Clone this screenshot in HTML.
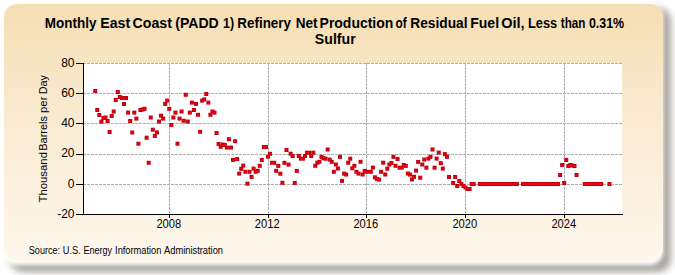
<!DOCTYPE html>
<html><head><meta charset="utf-8"><style>
html,body{margin:0;padding:0;width:675px;height:275px;overflow:hidden;background:#fff}
#sh{position:absolute;left:9.5px;top:8px;width:661.5px;height:264px;border-radius:13px;background:rgba(40,30,20,0.4);filter:blur(3.6px)}
#halo{position:absolute;left:3px;top:3.5px;width:660.3px;height:261.21px;border-radius:13px;background:#fff;filter:blur(2.37px)}
#panel{position:absolute;left:3.5px;top:4px;width:659.07px;height:257.23px;border-radius:13px;
background:linear-gradient(to bottom,#F5DEB3 0%,#FAECD5 50%,#FEF7EC 100%);filter:blur(0.76px)}
svg{position:absolute;left:0;top:0}
.t{font-family:"Liberation Sans",sans-serif}
</style></head><body>
<div id="sh"></div><div id="halo"></div><div id="panel"></div>
<svg width="675" height="275" viewBox="0 0 675 275">
<rect x="84" y="63" width="538" height="151" fill="#fff"/>
<g stroke="#ADADAD" stroke-width="1" stroke-dasharray="3 1" shape-rendering="crispEdges"><g stroke-dashoffset="1"><line x1="84" y1="63.5" x2="622" y2="63.5"/><line x1="84" y1="93.5" x2="622" y2="93.5"/><line x1="84" y1="123.5" x2="622" y2="123.5"/><line x1="84" y1="154.5" x2="622" y2="154.5"/><line x1="84" y1="184.5" x2="622" y2="184.5"/></g><line x1="169.5" y1="63" x2="169.5" y2="214"/><line x1="268.5" y1="63" x2="268.5" y2="214"/><line x1="366.5" y1="63" x2="366.5" y2="214"/><line x1="465.5" y1="63" x2="465.5" y2="214"/><line x1="564.5" y1="63" x2="564.5" y2="214"/></g>
<g stroke="#000" stroke-width="1" shape-rendering="crispEdges">
<line x1="83.5" y1="63" x2="83.5" y2="215"/><line x1="83" y1="214.5" x2="623" y2="214.5"/><line x1="76" y1="63.5" x2="83" y2="63.5"/><line x1="76" y1="93.5" x2="83" y2="93.5"/><line x1="76" y1="123.5" x2="83" y2="123.5"/><line x1="76" y1="154.5" x2="83" y2="154.5"/><line x1="76" y1="184.5" x2="83" y2="184.5"/><line x1="76" y1="214.5" x2="83" y2="214.5"/><line x1="169.5" y1="214" x2="169.5" y2="218"/><line x1="268.5" y1="214" x2="268.5" y2="218"/><line x1="366.5" y1="214" x2="366.5" y2="218"/><line x1="465.5" y1="214" x2="465.5" y2="218"/><line x1="564.5" y1="214" x2="564.5" y2="218"/></g>
<g fill="#BE0010"><rect x="93.20" y="89.0" width="4.00" height="4"/><rect x="95.26" y="108.0" width="4.00" height="4"/><rect x="97.31" y="113.0" width="4.00" height="4"/><rect x="99.37" y="119.7" width="4.00" height="4"/><rect x="101.43" y="116.0" width="4.00" height="4"/><rect x="103.48" y="115.5" width="4.00" height="4"/><rect x="105.54" y="119.0" width="4.00" height="4"/><rect x="107.60" y="130.0" width="4.00" height="4"/><rect x="109.66" y="114.0" width="4.00" height="4"/><rect x="111.71" y="109.5" width="4.00" height="4"/><rect x="113.77" y="98.0" width="4.00" height="4"/><rect x="115.83" y="90.0" width="4.00" height="4"/><rect x="117.88" y="95.0" width="4.00" height="4"/><rect x="119.94" y="96.0" width="4.00" height="4"/><rect x="122.00" y="102.0" width="4.00" height="4"/><rect x="124.06" y="96.0" width="4.00" height="4"/><rect x="126.11" y="110.6" width="4.00" height="4"/><rect x="128.17" y="119.0" width="4.00" height="4"/><rect x="130.23" y="130.5" width="4.00" height="4"/><rect x="132.28" y="110.6" width="4.00" height="4"/><rect x="134.34" y="116.6" width="4.00" height="4"/><rect x="136.40" y="141.7" width="4.00" height="4"/><rect x="138.45" y="108.0" width="4.00" height="4"/><rect x="140.51" y="107.5" width="4.00" height="4"/><rect x="142.57" y="106.8" width="4.00" height="4"/><rect x="144.62" y="135.7" width="4.00" height="4"/><rect x="146.68" y="160.8" width="4.00" height="4"/><rect x="148.74" y="115.5" width="4.00" height="4"/><rect x="150.80" y="127.7" width="4.00" height="4"/><rect x="152.85" y="133.9" width="4.00" height="4"/><rect x="154.91" y="130.4" width="4.00" height="4"/><rect x="156.97" y="119.5" width="4.00" height="4"/><rect x="159.02" y="113.7" width="4.00" height="4"/><rect x="161.08" y="116.6" width="4.00" height="4"/><rect x="163.14" y="101.9" width="4.00" height="4"/><rect x="165.19" y="98.6" width="4.00" height="4"/><rect x="167.25" y="106.8" width="4.00" height="4"/><rect x="169.31" y="123.0" width="4.00" height="4"/><rect x="171.37" y="115.5" width="4.00" height="4"/><rect x="173.42" y="110.6" width="4.00" height="4"/><rect x="175.48" y="141.7" width="4.00" height="4"/><rect x="177.54" y="116.6" width="4.00" height="4"/><rect x="179.59" y="109.5" width="4.00" height="4"/><rect x="181.65" y="118.8" width="4.00" height="4"/><rect x="183.71" y="92.8" width="4.00" height="4"/><rect x="185.76" y="119.5" width="4.00" height="4"/><rect x="187.82" y="110.6" width="4.00" height="4"/><rect x="189.88" y="100.6" width="4.00" height="4"/><rect x="191.94" y="108.0" width="4.00" height="4"/><rect x="193.99" y="101.9" width="4.00" height="4"/><rect x="196.05" y="112.8" width="4.00" height="4"/><rect x="198.11" y="129.8" width="4.00" height="4"/><rect x="200.16" y="98.6" width="4.00" height="4"/><rect x="202.22" y="97.4" width="4.00" height="4"/><rect x="204.28" y="92.0" width="4.00" height="4"/><rect x="206.33" y="100.6" width="4.00" height="4"/><rect x="208.39" y="112.8" width="4.00" height="4"/><rect x="210.45" y="109.5" width="4.00" height="4"/><rect x="212.51" y="110.6" width="4.00" height="4"/><rect x="214.56" y="131.0" width="4.00" height="4"/><rect x="216.62" y="142.0" width="4.00" height="4"/><rect x="218.68" y="144.8" width="4.00" height="4"/><rect x="220.73" y="142.5" width="4.00" height="4"/><rect x="222.79" y="143.0" width="4.00" height="4"/><rect x="224.85" y="145.6" width="4.00" height="4"/><rect x="226.90" y="137.2" width="4.00" height="4"/><rect x="228.96" y="145.6" width="4.00" height="4"/><rect x="231.02" y="157.9" width="4.00" height="4"/><rect x="233.08" y="139.2" width="4.00" height="4"/><rect x="235.13" y="157.0" width="4.00" height="4"/><rect x="237.19" y="171.6" width="4.00" height="4"/><rect x="239.25" y="166.8" width="4.00" height="4"/><rect x="241.30" y="163.6" width="4.00" height="4"/><rect x="243.36" y="169.8" width="4.00" height="4"/><rect x="245.42" y="181.7" width="4.00" height="4"/><rect x="247.48" y="169.8" width="4.00" height="4"/><rect x="249.53" y="174.9" width="4.00" height="4"/><rect x="251.59" y="166.6" width="4.00" height="4"/><rect x="253.65" y="169.8" width="4.00" height="4"/><rect x="255.70" y="168.8" width="4.00" height="4"/><rect x="257.76" y="163.8" width="4.00" height="4"/><rect x="259.82" y="158.0" width="4.00" height="4"/><rect x="261.87" y="145.0" width="6.06" height="4"/><rect x="265.99" y="154.7" width="4.00" height="4"/><rect x="268.05" y="151.8" width="4.00" height="4"/><rect x="270.10" y="160.8" width="6.06" height="4"/><rect x="274.22" y="168.8" width="4.00" height="4"/><rect x="276.27" y="163.9" width="4.00" height="4"/><rect x="278.33" y="171.7" width="4.00" height="4"/><rect x="280.39" y="180.8" width="4.00" height="4"/><rect x="282.44" y="160.8" width="4.00" height="4"/><rect x="284.50" y="148.0" width="4.00" height="4"/><rect x="286.56" y="162.6" width="4.00" height="4"/><rect x="288.62" y="151.7" width="4.00" height="4"/><rect x="290.67" y="154.0" width="4.00" height="4"/><rect x="292.73" y="180.9" width="4.00" height="4"/><rect x="294.79" y="168.9" width="4.00" height="4"/><rect x="296.84" y="154.0" width="4.00" height="4"/><rect x="298.90" y="156.7" width="6.06" height="4"/><rect x="303.01" y="154.0" width="4.00" height="4"/><rect x="305.07" y="150.7" width="6.06" height="4"/><rect x="309.19" y="154.0" width="4.00" height="4"/><rect x="311.24" y="150.7" width="4.00" height="4"/><rect x="313.30" y="163.8" width="4.00" height="4"/><rect x="315.36" y="160.7" width="4.00" height="4"/><rect x="317.41" y="159.8" width="4.00" height="4"/><rect x="319.47" y="154.9" width="4.00" height="4"/><rect x="321.53" y="156.2" width="4.00" height="4"/><rect x="323.58" y="156.7" width="4.00" height="4"/><rect x="325.64" y="147.5" width="4.00" height="4"/><rect x="327.70" y="157.6" width="4.00" height="4"/><rect x="329.75" y="159.8" width="4.00" height="4"/><rect x="331.81" y="169.8" width="4.00" height="4"/><rect x="333.87" y="162.5" width="4.00" height="4"/><rect x="335.93" y="166.5" width="4.00" height="4"/><rect x="337.98" y="154.9" width="4.00" height="4"/><rect x="340.04" y="178.9" width="4.00" height="4"/><rect x="342.10" y="171.6" width="4.00" height="4"/><rect x="344.15" y="172.5" width="4.00" height="4"/><rect x="346.21" y="160.7" width="4.00" height="4"/><rect x="348.27" y="156.7" width="4.00" height="4"/><rect x="350.32" y="166.2" width="4.00" height="4"/><rect x="352.38" y="163.8" width="4.00" height="4"/><rect x="354.44" y="169.8" width="4.00" height="4"/><rect x="356.50" y="171.6" width="4.00" height="4"/><rect x="358.55" y="159.8" width="4.00" height="4"/><rect x="360.61" y="172.5" width="4.00" height="4"/><rect x="362.67" y="168.9" width="4.00" height="4"/><rect x="364.72" y="169.8" width="8.11" height="4"/><rect x="370.89" y="165.6" width="4.00" height="4"/><rect x="372.95" y="175.3" width="4.00" height="4"/><rect x="375.01" y="177.1" width="4.00" height="4"/><rect x="377.07" y="177.6" width="4.00" height="4"/><rect x="379.12" y="169.8" width="4.00" height="4"/><rect x="381.18" y="160.7" width="4.00" height="4"/><rect x="383.24" y="172.5" width="4.00" height="4"/><rect x="385.29" y="166.7" width="4.00" height="4"/><rect x="387.35" y="162.5" width="4.00" height="4"/><rect x="389.41" y="161.0" width="4.00" height="4"/><rect x="391.46" y="154.9" width="4.00" height="4"/><rect x="393.52" y="163.8" width="4.00" height="4"/><rect x="395.58" y="157.0" width="4.00" height="4"/><rect x="397.64" y="165.7" width="6.06" height="4"/><rect x="401.75" y="163.0" width="4.00" height="4"/><rect x="403.81" y="163.9" width="4.00" height="4"/><rect x="405.86" y="171.5" width="4.00" height="4"/><rect x="407.92" y="172.6" width="4.00" height="4"/><rect x="409.98" y="177.5" width="4.00" height="4"/><rect x="412.03" y="174.8" width="4.00" height="4"/><rect x="414.09" y="168.6" width="4.00" height="4"/><rect x="416.15" y="159.9" width="4.00" height="4"/><rect x="418.21" y="175.7" width="4.00" height="4"/><rect x="420.26" y="162.5" width="4.00" height="4"/><rect x="422.32" y="157.5" width="4.00" height="4"/><rect x="424.38" y="165.7" width="4.00" height="4"/><rect x="426.43" y="156.6" width="4.00" height="4"/><rect x="428.49" y="154.8" width="4.00" height="4"/><rect x="430.55" y="147.5" width="4.00" height="4"/><rect x="432.60" y="165.7" width="4.00" height="4"/><rect x="434.66" y="156.6" width="4.00" height="4"/><rect x="436.72" y="150.6" width="4.00" height="4"/><rect x="438.78" y="161.2" width="4.00" height="4"/><rect x="440.83" y="166.6" width="4.00" height="4"/><rect x="442.89" y="152.1" width="4.00" height="4"/><rect x="444.95" y="154.8" width="4.00" height="4"/><rect x="447.00" y="175.0" width="4.00" height="4"/><rect x="451.12" y="181.0" width="4.00" height="4"/><rect x="453.17" y="175.0" width="4.00" height="4"/><rect x="455.23" y="184.0" width="4.00" height="4"/><rect x="457.29" y="179.0" width="4.00" height="4"/><rect x="459.35" y="181.8" width="4.00" height="4"/><rect x="461.40" y="184.0" width="4.00" height="4"/><rect x="463.46" y="185.5" width="4.00" height="4"/><rect x="465.52" y="187.0" width="6.06" height="4"/><rect x="469.63" y="182.0" width="6.06" height="4"/><rect x="477.86" y="182.0" width="41.03" height="4"/><rect x="521.06" y="182.0" width="38.97" height="4"/><rect x="558.08" y="173.0" width="4.00" height="4"/><rect x="560.14" y="163.0" width="4.00" height="4"/><rect x="562.20" y="181.0" width="4.00" height="4"/><rect x="564.25" y="158.0" width="4.00" height="4"/><rect x="566.31" y="164.0" width="4.00" height="4"/><rect x="568.37" y="163.0" width="4.00" height="4"/><rect x="570.42" y="163.5" width="4.00" height="4"/><rect x="572.48" y="164.0" width="4.00" height="4"/><rect x="574.54" y="173.0" width="4.00" height="4"/><rect x="582.77" y="182.0" width="20.46" height="4"/><rect x="607.45" y="182.0" width="4.00" height="4"/></g>
<g fill="#F2000E"><rect x="94.20" y="90.0" width="2.00" height="2"/><rect x="96.26" y="109.0" width="2.00" height="2"/><rect x="98.31" y="114.0" width="2.00" height="2"/><rect x="100.37" y="120.7" width="2.00" height="2"/><rect x="102.43" y="117.0" width="2.00" height="2"/><rect x="104.48" y="116.5" width="2.00" height="2"/><rect x="106.54" y="120.0" width="2.00" height="2"/><rect x="108.60" y="131.0" width="2.00" height="2"/><rect x="110.66" y="115.0" width="2.00" height="2"/><rect x="112.71" y="110.5" width="2.00" height="2"/><rect x="114.77" y="99.0" width="2.00" height="2"/><rect x="116.83" y="91.0" width="2.00" height="2"/><rect x="118.88" y="96.0" width="2.00" height="2"/><rect x="120.94" y="97.0" width="2.00" height="2"/><rect x="123.00" y="103.0" width="2.00" height="2"/><rect x="125.06" y="97.0" width="2.00" height="2"/><rect x="127.11" y="111.6" width="2.00" height="2"/><rect x="129.17" y="120.0" width="2.00" height="2"/><rect x="131.23" y="131.5" width="2.00" height="2"/><rect x="133.28" y="111.6" width="2.00" height="2"/><rect x="135.34" y="117.6" width="2.00" height="2"/><rect x="137.40" y="142.7" width="2.00" height="2"/><rect x="139.45" y="109.0" width="2.00" height="2"/><rect x="141.51" y="108.5" width="2.00" height="2"/><rect x="143.57" y="107.8" width="2.00" height="2"/><rect x="145.62" y="136.7" width="2.00" height="2"/><rect x="147.68" y="161.8" width="2.00" height="2"/><rect x="149.74" y="116.5" width="2.00" height="2"/><rect x="151.80" y="128.7" width="2.00" height="2"/><rect x="153.85" y="134.9" width="2.00" height="2"/><rect x="155.91" y="131.4" width="2.00" height="2"/><rect x="157.97" y="120.5" width="2.00" height="2"/><rect x="160.02" y="114.7" width="2.00" height="2"/><rect x="162.08" y="117.6" width="2.00" height="2"/><rect x="164.14" y="102.9" width="2.00" height="2"/><rect x="166.19" y="99.6" width="2.00" height="2"/><rect x="168.25" y="107.8" width="2.00" height="2"/><rect x="170.31" y="124.0" width="2.00" height="2"/><rect x="172.37" y="116.5" width="2.00" height="2"/><rect x="174.42" y="111.6" width="2.00" height="2"/><rect x="176.48" y="142.7" width="2.00" height="2"/><rect x="178.54" y="117.6" width="2.00" height="2"/><rect x="180.59" y="110.5" width="2.00" height="2"/><rect x="182.65" y="119.8" width="2.00" height="2"/><rect x="184.71" y="93.8" width="2.00" height="2"/><rect x="186.76" y="120.5" width="2.00" height="2"/><rect x="188.82" y="111.6" width="2.00" height="2"/><rect x="190.88" y="101.6" width="2.00" height="2"/><rect x="192.94" y="109.0" width="2.00" height="2"/><rect x="194.99" y="102.9" width="2.00" height="2"/><rect x="197.05" y="113.8" width="2.00" height="2"/><rect x="199.11" y="130.8" width="2.00" height="2"/><rect x="201.16" y="99.6" width="2.00" height="2"/><rect x="203.22" y="98.4" width="2.00" height="2"/><rect x="205.28" y="93.0" width="2.00" height="2"/><rect x="207.33" y="101.6" width="2.00" height="2"/><rect x="209.39" y="113.8" width="2.00" height="2"/><rect x="211.45" y="110.5" width="2.00" height="2"/><rect x="213.51" y="111.6" width="2.00" height="2"/><rect x="215.56" y="132.0" width="2.00" height="2"/><rect x="217.62" y="143.0" width="2.00" height="2"/><rect x="219.68" y="145.8" width="2.00" height="2"/><rect x="221.73" y="143.5" width="2.00" height="2"/><rect x="223.79" y="144.0" width="2.00" height="2"/><rect x="225.85" y="146.6" width="2.00" height="2"/><rect x="227.90" y="138.2" width="2.00" height="2"/><rect x="229.96" y="146.6" width="2.00" height="2"/><rect x="232.02" y="158.9" width="2.00" height="2"/><rect x="234.08" y="140.2" width="2.00" height="2"/><rect x="236.13" y="158.0" width="2.00" height="2"/><rect x="238.19" y="172.6" width="2.00" height="2"/><rect x="240.25" y="167.8" width="2.00" height="2"/><rect x="242.30" y="164.6" width="2.00" height="2"/><rect x="244.36" y="170.8" width="2.00" height="2"/><rect x="246.42" y="182.7" width="2.00" height="2"/><rect x="248.48" y="170.8" width="2.00" height="2"/><rect x="250.53" y="175.9" width="2.00" height="2"/><rect x="252.59" y="167.6" width="2.00" height="2"/><rect x="254.65" y="170.8" width="2.00" height="2"/><rect x="256.70" y="169.8" width="2.00" height="2"/><rect x="258.76" y="164.8" width="2.00" height="2"/><rect x="260.82" y="159.0" width="2.00" height="2"/><rect x="262.87" y="146.0" width="4.06" height="2"/><rect x="266.99" y="155.7" width="2.00" height="2"/><rect x="269.05" y="152.8" width="2.00" height="2"/><rect x="271.10" y="161.8" width="4.06" height="2"/><rect x="275.22" y="169.8" width="2.00" height="2"/><rect x="277.27" y="164.9" width="2.00" height="2"/><rect x="279.33" y="172.7" width="2.00" height="2"/><rect x="281.39" y="181.8" width="2.00" height="2"/><rect x="283.44" y="161.8" width="2.00" height="2"/><rect x="285.50" y="149.0" width="2.00" height="2"/><rect x="287.56" y="163.6" width="2.00" height="2"/><rect x="289.62" y="152.7" width="2.00" height="2"/><rect x="291.67" y="155.0" width="2.00" height="2"/><rect x="293.73" y="181.9" width="2.00" height="2"/><rect x="295.79" y="169.9" width="2.00" height="2"/><rect x="297.84" y="155.0" width="2.00" height="2"/><rect x="299.90" y="157.7" width="4.06" height="2"/><rect x="304.01" y="155.0" width="2.00" height="2"/><rect x="306.07" y="151.7" width="4.06" height="2"/><rect x="310.19" y="155.0" width="2.00" height="2"/><rect x="312.24" y="151.7" width="2.00" height="2"/><rect x="314.30" y="164.8" width="2.00" height="2"/><rect x="316.36" y="161.7" width="2.00" height="2"/><rect x="318.41" y="160.8" width="2.00" height="2"/><rect x="320.47" y="155.9" width="2.00" height="2"/><rect x="322.53" y="157.2" width="2.00" height="2"/><rect x="324.58" y="157.7" width="2.00" height="2"/><rect x="326.64" y="148.5" width="2.00" height="2"/><rect x="328.70" y="158.6" width="2.00" height="2"/><rect x="330.75" y="160.8" width="2.00" height="2"/><rect x="332.81" y="170.8" width="2.00" height="2"/><rect x="334.87" y="163.5" width="2.00" height="2"/><rect x="336.93" y="167.5" width="2.00" height="2"/><rect x="338.98" y="155.9" width="2.00" height="2"/><rect x="341.04" y="179.9" width="2.00" height="2"/><rect x="343.10" y="172.6" width="2.00" height="2"/><rect x="345.15" y="173.5" width="2.00" height="2"/><rect x="347.21" y="161.7" width="2.00" height="2"/><rect x="349.27" y="157.7" width="2.00" height="2"/><rect x="351.32" y="167.2" width="2.00" height="2"/><rect x="353.38" y="164.8" width="2.00" height="2"/><rect x="355.44" y="170.8" width="2.00" height="2"/><rect x="357.50" y="172.6" width="2.00" height="2"/><rect x="359.55" y="160.8" width="2.00" height="2"/><rect x="361.61" y="173.5" width="2.00" height="2"/><rect x="363.67" y="169.9" width="2.00" height="2"/><rect x="365.72" y="170.8" width="6.11" height="2"/><rect x="371.89" y="166.6" width="2.00" height="2"/><rect x="373.95" y="176.3" width="2.00" height="2"/><rect x="376.01" y="178.1" width="2.00" height="2"/><rect x="378.07" y="178.6" width="2.00" height="2"/><rect x="380.12" y="170.8" width="2.00" height="2"/><rect x="382.18" y="161.7" width="2.00" height="2"/><rect x="384.24" y="173.5" width="2.00" height="2"/><rect x="386.29" y="167.7" width="2.00" height="2"/><rect x="388.35" y="163.5" width="2.00" height="2"/><rect x="390.41" y="162.0" width="2.00" height="2"/><rect x="392.46" y="155.9" width="2.00" height="2"/><rect x="394.52" y="164.8" width="2.00" height="2"/><rect x="396.58" y="158.0" width="2.00" height="2"/><rect x="398.64" y="166.7" width="4.06" height="2"/><rect x="402.75" y="164.0" width="2.00" height="2"/><rect x="404.81" y="164.9" width="2.00" height="2"/><rect x="406.86" y="172.5" width="2.00" height="2"/><rect x="408.92" y="173.6" width="2.00" height="2"/><rect x="410.98" y="178.5" width="2.00" height="2"/><rect x="413.03" y="175.8" width="2.00" height="2"/><rect x="415.09" y="169.6" width="2.00" height="2"/><rect x="417.15" y="160.9" width="2.00" height="2"/><rect x="419.21" y="176.7" width="2.00" height="2"/><rect x="421.26" y="163.5" width="2.00" height="2"/><rect x="423.32" y="158.5" width="2.00" height="2"/><rect x="425.38" y="166.7" width="2.00" height="2"/><rect x="427.43" y="157.6" width="2.00" height="2"/><rect x="429.49" y="155.8" width="2.00" height="2"/><rect x="431.55" y="148.5" width="2.00" height="2"/><rect x="433.60" y="166.7" width="2.00" height="2"/><rect x="435.66" y="157.6" width="2.00" height="2"/><rect x="437.72" y="151.6" width="2.00" height="2"/><rect x="439.78" y="162.2" width="2.00" height="2"/><rect x="441.83" y="167.6" width="2.00" height="2"/><rect x="443.89" y="153.1" width="2.00" height="2"/><rect x="445.95" y="155.8" width="2.00" height="2"/><rect x="448.00" y="176.0" width="2.00" height="2"/><rect x="452.12" y="182.0" width="2.00" height="2"/><rect x="454.17" y="176.0" width="2.00" height="2"/><rect x="456.23" y="185.0" width="2.00" height="2"/><rect x="458.29" y="180.0" width="2.00" height="2"/><rect x="460.35" y="182.8" width="2.00" height="2"/><rect x="462.40" y="185.0" width="2.00" height="2"/><rect x="464.46" y="186.5" width="2.00" height="2"/><rect x="466.52" y="188.0" width="4.06" height="2"/><rect x="470.63" y="183.0" width="4.06" height="2"/><rect x="478.86" y="183.0" width="39.03" height="2"/><rect x="522.06" y="183.0" width="36.97" height="2"/><rect x="559.08" y="174.0" width="2.00" height="2"/><rect x="561.14" y="164.0" width="2.00" height="2"/><rect x="563.20" y="182.0" width="2.00" height="2"/><rect x="565.25" y="159.0" width="2.00" height="2"/><rect x="567.31" y="165.0" width="2.00" height="2"/><rect x="569.37" y="164.0" width="2.00" height="2"/><rect x="571.42" y="164.5" width="2.00" height="2"/><rect x="573.48" y="165.0" width="2.00" height="2"/><rect x="575.54" y="174.0" width="2.00" height="2"/><rect x="583.77" y="183.0" width="18.46" height="2"/><rect x="608.45" y="183.0" width="2.00" height="2"/></g>
<g class="t" font-size="12" fill="#000"><text x="74.5" y="66.5" text-anchor="end">80</text><text x="74.5" y="97.2" text-anchor="end">60</text><text x="74.5" y="127.2" text-anchor="end">40</text><text x="74.5" y="157.2" text-anchor="end">20</text><text x="74.5" y="187.6" text-anchor="end">0</text><text x="74.5" y="218.3" text-anchor="end">-20</text><text x="168.8" y="228" text-anchor="middle" textLength="24.8" lengthAdjust="spacingAndGlyphs">2008</text><text x="267.2" y="228" text-anchor="middle" textLength="24.8" lengthAdjust="spacingAndGlyphs">2012</text><text x="365.8" y="228" text-anchor="middle" textLength="24.8" lengthAdjust="spacingAndGlyphs">2016</text><text x="464.8" y="228" text-anchor="middle" textLength="24.8" lengthAdjust="spacingAndGlyphs">2020</text><text x="563.8" y="228" text-anchor="middle" textLength="24.8" lengthAdjust="spacingAndGlyphs">2024</text></g>
<g class="t" font-size="14" font-weight="bold" fill="#000"><text x="44.84" y="28" textLength="51.73" lengthAdjust="spacingAndGlyphs">Monthly</text><text x="100.19" y="28" textLength="29.99" lengthAdjust="spacingAndGlyphs">East</text><text x="132.49" y="28" textLength="39.42" lengthAdjust="spacingAndGlyphs">Coast</text><text x="175.19" y="28" textLength="43.61" lengthAdjust="spacingAndGlyphs">(PADD</text><text x="223.11" y="28" textLength="11.09" lengthAdjust="spacingAndGlyphs">1)</text><text x="237.34" y="28" textLength="53.69" lengthAdjust="spacingAndGlyphs">Refinery</text><text x="295.63" y="28" textLength="21.84" lengthAdjust="spacingAndGlyphs">Net</text><text x="319.60" y="28" textLength="73.69" lengthAdjust="spacingAndGlyphs">Production</text><text x="395.40" y="28" textLength="11.19" lengthAdjust="spacingAndGlyphs">of</text><text x="410.32" y="28" textLength="57.23" lengthAdjust="spacingAndGlyphs">Residual</text><text x="470.20" y="28" textLength="28.89" lengthAdjust="spacingAndGlyphs">Fuel</text><text x="501.16" y="28" textLength="23.42" lengthAdjust="spacingAndGlyphs">Oil,</text><text x="527.99" y="28" textLength="29.16" lengthAdjust="spacingAndGlyphs">Less</text><text x="560.80" y="28" textLength="24.67" lengthAdjust="spacingAndGlyphs">than</text><text x="588.90" y="28" textLength="35.24" lengthAdjust="spacingAndGlyphs">0.31%</text><text x="314.89" y="43.6" textLength="40.76" lengthAdjust="spacingAndGlyphs">Sulfur</text></g>
<g class="t" transform="translate(47,0) rotate(-90)" font-size="11" fill="#000"><text x="-202.50" y="0" textLength="50.47" lengthAdjust="spacingAndGlyphs">Thousand</text><text x="-150.80" y="0" textLength="34.84" lengthAdjust="spacingAndGlyphs">Barrels</text><text x="-113.03" y="0" textLength="16.44" lengthAdjust="spacingAndGlyphs">per</text><text x="-94.28" y="0" textLength="19.15" lengthAdjust="spacingAndGlyphs">Day</text></g>
<g class="t" font-size="10" fill="#000"><text x="28.79" y="253.5" textLength="31.34" lengthAdjust="spacingAndGlyphs">Source:</text><text x="62.78" y="253.5" textLength="17.94" lengthAdjust="spacingAndGlyphs">U.S.</text><text x="83.40" y="253.5" textLength="28.62" lengthAdjust="spacingAndGlyphs">Energy</text><text x="115.08" y="253.5" textLength="46.25" lengthAdjust="spacingAndGlyphs">Information</text><text x="164.00" y="253.5" textLength="59.03" lengthAdjust="spacingAndGlyphs">Administration</text></g>
</svg>
</body></html>
